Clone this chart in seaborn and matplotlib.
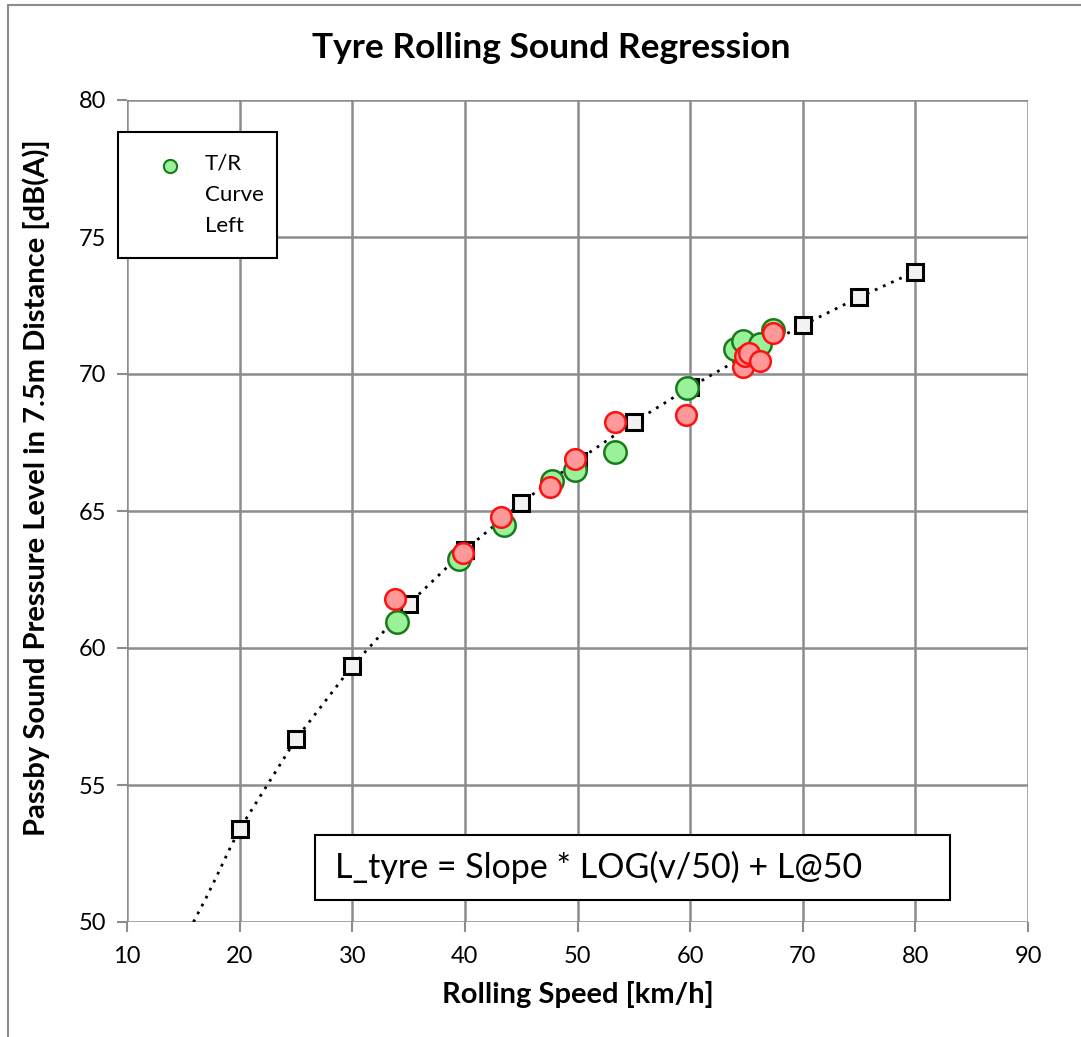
import matplotlib
matplotlib.use("Agg")
import matplotlib.pyplot as plt
from matplotlib.patches import Rectangle
import seaborn as sns
import pandas as pd

# ---- data ----
green_speed = [34.0, 39.5, 43.5, 47.7, 49.8, 53.3, 59.7, 64.0, 64.7, 66.2, 67.4]
green_level = [60.95, 63.25, 64.5, 66.1, 66.5, 67.15, 69.5, 70.9, 71.2, 71.1, 71.6]

red_speed = [33.8, 39.8, 43.2, 47.6, 49.8, 53.3, 59.6, 64.7, 64.9, 65.2, 66.2, 67.4]
red_level = [61.8, 63.47, 64.78, 65.88, 66.9, 68.25, 68.5, 70.26, 70.65, 70.77, 70.47, 71.5]

reg_speed = [20, 25, 30, 35, 40, 45, 50, 55, 60, 65, 70, 75, 80]
reg_level = [53.39, 56.67, 59.34, 61.60, 63.57, 65.29, 66.84, 68.24, 69.52, 70.69, 71.78, 72.80, 73.74]

line_speed = [15.9, 17, 18, 19] + reg_speed
line_level = [50.0, 50.86, 51.70, 52.57] + reg_level

x_ticks = [10, 20, 30, 40, 50, 60, 70, 80, 90]
y_ticks = [50, 55, 60, 65, 70, 75, 80]

title = "Tyre Rolling Sound Regression"
x_label = "Rolling Speed [km/h]"
y_label = "Passby Sound Pressure Level in 7.5m Distance [dB(A)]"
legend_lines = ["T/R", "Curve", "Left"]
equation = "L_tyre = Slope * LOG(v/50) + L@50"

# ---- style ----
sns.set_theme(style="white")
plt.rcParams['font.family'] = ['Lato', 'DejaVu Sans']
plt.rcParams['text.color'] = 'black'

W, H = 1081, 1037
fig = plt.figure(figsize=(W/100, H/100), dpi=100)
ax = fig.add_axes([127/W, 1-922/H, (1028-127)/W, (922-100)/H])

def ax_x(px):
    return (px-127)/901

def ax_y(py):
    return (922-py)/822

df_line = pd.DataFrame({"speed": line_speed, "level": line_level})
df_reg = pd.DataFrame({"speed": reg_speed, "level": reg_level})
df_g = pd.DataFrame({"speed": green_speed, "level": green_level})
df_r = pd.DataFrame({"speed": red_speed, "level": red_level})

sns.lineplot(data=df_line, x="speed", y="level", ax=ax, color="black",
             linestyle=(0, (1, 2.2)), linewidth=2.0, sort=False, zorder=3)
ax.plot(df_reg["speed"], df_reg["level"], linestyle="none", marker="s",
        markersize=11, markerfacecolor="#f2f2f2", markeredgecolor="black",
        markeredgewidth=2.2, zorder=4)
sns.scatterplot(data=df_g, x="speed", y="level", ax=ax, s=260,
                color="#99f299", edgecolor="#1a7a1a", linewidth=1.8, zorder=5,
                legend=False)
sns.scatterplot(data=df_r, x="speed", y="level", ax=ax, s=220,
                color="#ff9999", edgecolor="#ff1010", linewidth=1.8, zorder=6,
                legend=False)

ax.set_xlim(10, 90)
ax.set_ylim(50, 80)
ax.set_xticks(x_ticks)
ax.set_yticks(y_ticks)
ax.grid(True, color="#8c8c8c", linewidth=1.8)
ax.set_axisbelow(True)
for s in ax.spines.values():
    s.set_visible(False)
ax.tick_params(axis="both", which="both", length=7, width=1.5, color="#8c8c8c",
               labelsize=17, bottom=True, left=True, labelcolor="black")
ax.tick_params(axis="x", pad=10)
ax.tick_params(axis="y", pad=8)

ax.set_xlabel(x_label, fontsize=21, fontweight="bold", labelpad=10, color="black")
ax.set_ylabel(y_label, fontsize=21, fontweight="bold", color="black")
ax.yaxis.set_label_coords(ax_x(50), ax_y(488))
fig.text(551/W, 1-48/H, title, fontsize=25.5, fontweight="bold",
         ha="center", va="center", color="black")

# legend box (manual, single entry)
ax.add_patch(Rectangle((ax_x(118), ax_y(258)), ax_x(277)-ax_x(118), ax_y(132)-ax_y(258),
                       transform=ax.transAxes, facecolor="white", edgecolor="black",
                       linewidth=1.5, zorder=8, clip_on=False))
ax.plot([ax_x(170)], [ax_y(166)], transform=ax.transAxes, marker="o", markersize=9.5,
        markerfacecolor="#99f299", markeredgecolor="#1a7a1a", markeredgewidth=1.5,
        linestyle="none", zorder=9, clip_on=False)
for i, t in enumerate(legend_lines):
    ax.text(ax_x(205), ax_y(164 + 31*i), t, transform=ax.transAxes, fontsize=16,
            ha="left", va="center", zorder=9, color="black")

# equation box
rx0, rx1 = ax_x(315), ax_x(950)
ry0, ry1 = ax_y(900), ax_y(835)
ax.add_patch(Rectangle((rx0, ry0), rx1-rx0, ry1-ry0, transform=ax.transAxes,
                       facecolor="white", edgecolor="black", linewidth=1.5, zorder=8))
ax.text(ax_x(335), (ry0+ry1)/2, equation, transform=ax.transAxes,
        fontsize=24.5, ha="left", va="center", zorder=9, color="black")

# outer frame
fig.patches.append(Rectangle((8/W, -0.01), 1.1, 1-5/H+0.01,
                             transform=fig.transFigure, fill=False,
                             edgecolor="#8c8c8c", linewidth=1.5))

fig.savefig("out.png", dpi=100)
